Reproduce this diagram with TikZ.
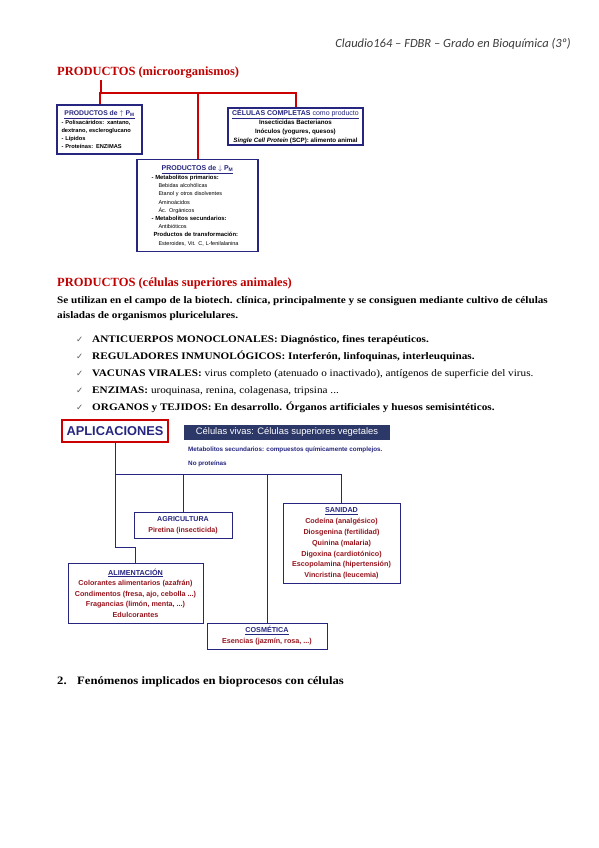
\documentclass[tikz,border=0pt]{standalone}
\usepackage{fontspec}
\setmainfont[FakeStretch=1.12]{Liberation Serif}
\setsansfont{Liberation Sans}
\newfontfamily\titlefont{Liberation Serif}
\newfontfamily\headfont{Carlito}
\newfontfamily\tickfont{DejaVu Sans}
\usetikzlibrary{calc}
\definecolor{TitleRed}{RGB}{192,0,0}
\definecolor{TreeRed}{RGB}{204,0,0}
\definecolor{BoxNavy}{RGB}{38,38,128}
\definecolor{BannerNavy}{RGB}{44,56,104}
\definecolor{ItemRed}{RGB}{150,22,30}
\definecolor{HeadGray}{RGB}{60,60,60}
\definecolor{TickGray}{RGB}{90,90,90}
\newcommand{\boxhead}[1]{\textcolor{BoxNavy}{\underline{#1}}}

\begin{document}
\begin{tikzpicture}[x=1pt, y=-1pt,
    sectitle/.style={anchor=base west, inner sep=0pt, text=TitleRed, font=\titlefont\bfseries\fontsize{12.5}{14}\selectfont},
    bodyline/.style={anchor=base west, inner sep=0pt, font=\bfseries\fontsize{10}{12}\selectfont},
    itemline/.style={anchor=base west, inner sep=0pt, font=\fontsize{10}{12}\selectfont},
    tick/.style={anchor=base west, inner sep=0pt, text=TickGray, font=\tickfont\fontsize{8.5}{10}\selectfont},
    topbox/.style={draw=BoxNavy, line width=1.2pt, fill=white, inner sep=0pt, font=\sffamily\bfseries\fontsize{5.7}{8}\selectfont},
    lowbox/.style={draw=BoxNavy, line width=1pt, fill=white, inner sep=0pt, align=center, text=ItemRed, font=\sffamily\bfseries\fontsize{7.1}{10.8}\selectfont},
    redline/.style={draw=TreeRed, line width=2pt},
    navyline/.style={draw=BoxNavy, line width=1pt}
]
    \useasboundingbox[fill=white] (0,0) rectangle (599,848);

    \node[anchor=base east, inner sep=0pt, text=HeadGray, font=\headfont\itshape\fontsize{12.5}{14}\selectfont] (header) at (571,48) {Claudio164 – FDBR – Grado en Bioquímica (3º)};

    % microorganismos
    \node[sectitle] (microtitle) at (57,76) {PRODUCTOS (microorganismos)};
    \node[topbox, minimum width=85pt, minimum height=49pt, text width=76pt, align=left] (pgrande) at (99.5,129.5) {\makebox[\linewidth]{\fontsize{6.8}{8}\selectfont\boxhead{PRODUCTOS de $\uparrow$ P\textsubscript{M}}}\\[1pt]
        - Polisacáridos: xantano,\\dextrano, escleroglucano\\- Lípidos\\- Proteínas: ENZIMAS};
    \node[topbox, minimum width=135pt, minimum height=37pt, align=center, font=\sffamily\bfseries\fontsize{6.2}{9}\selectfont] (celulas) at (295.5,126.5) {{\fontsize{7}{9}\selectfont\boxhead{CÉLULAS COMPLETAS \mdseries como producto}}\\[0.5pt]
        Insecticidas Bacterianos\\Inóculos (yogures, quesos)\\{\itshape Single Cell Protein} (SCP): alimento animal};
    \node[topbox, minimum width=121pt, minimum height=92pt, text width=92pt, align=left, font=\sffamily\fontsize{5.5}{8.2}\selectfont] (ppequeno) at (197.5,205.5) {\makebox[\linewidth]{\bfseries\fontsize{7}{8.2}\selectfont\boxhead{PRODUCTOS de $\downarrow$ P\textsubscript{M}}}\\[1pt]
        {\bfseries\fontsize{5.9}{8.2}\selectfont - Metabolitos primarios:}\\\hspace*{7pt}Bebidas alcohólicas\\\hspace*{7pt}Etanol y otros disolventes\\\hspace*{7pt}Aminoácidos\\\hspace*{7pt}Ác. Orgánicos\\
        {\bfseries\fontsize{5.9}{8.2}\selectfont - Metabolitos secundarios:}\\\hspace*{7pt}Antibióticos\\\hspace*{2pt}{\bfseries\fontsize{5.9}{8.2}\selectfont Productos de transformación:}\\\hspace*{7pt}Esteroides, Vit. C, L-fenilalanina};

    \coordinate (treetop) at (101,80);
    \coordinate (topbar) at (101,93);
    \draw[redline] (treetop) -- (topbar);
    \draw[redline] (pgrande.north) |- (topbar) -| (celulas.north);
    \draw[redline] (topbar -| ppequeno.north) -- (ppequeno.north);

    % celulas animales
    \node[sectitle] (animaltitle) at (57,286) {PRODUCTOS (células superiores animales)};
    \node[bodyline] (intro1) at (57,303.5) {Se utilizan en el campo de la biotech. clínica, principalmente y se consiguen mediante cultivo de células};
    \node[bodyline] (intro2) at (57,318.5) {aisladas de organismos pluricelulares.};
    \foreach \ty in {342,359,376,393,410}
        \node[tick] (tick\ty) at (76,\ty) {✓};
    \node[itemline] (item1) at (92,342) {\bfseries ANTICUERPOS MONOCLONALES: Diagnóstico, fines terapéuticos.};
    \node[itemline] (item2) at (92,359) {\bfseries REGULADORES INMUNOLÓGICOS: Interferón, linfoquinas, interleuquinas.};
    \node[itemline] (item3) at (92,376) {\textbf{VACUNAS VIRALES:} virus completo (atenuado o inactivado), antígenos de superficie del virus.};
    \node[itemline] (item4) at (92,393) {\textbf{ENZIMAS:} uroquinasa, renina, colagenasa, tripsina ...};
    \node[itemline] (item5) at (92,410) {\bfseries ORGANOS y TEJIDOS: En desarrollo. Órganos artificiales y huesos semisintéticos.};

    % aplicaciones vegetales
    \node[draw=TreeRed, line width=1.2pt, minimum width=106pt, minimum height=22pt, inner sep=0pt, text=BoxNavy, font=\sffamily\bfseries\fontsize{12.8}{14}\selectfont] (aplic) at (115,431) {APLICACIONES};
    \node[fill=BannerNavy, minimum width=206pt, minimum height=15pt, inner sep=0pt, text=white, font=\sffamily\fontsize{9.4}{11}\selectfont] (banner) at (287,432.5) {Células vivas: Células superiores vegetales};
    \node[anchor=base west, inner sep=0pt, text=BoxNavy, font=\sffamily\bfseries\fontsize{6.3}{7}\selectfont] (metab) at (188,451.5) {Metabolitos secundarios: compuestos químicamente complejos.};
    \node[anchor=base west, inner sep=0pt, text=BoxNavy, font=\sffamily\bfseries\fontsize{6.3}{7}\selectfont] (noprot) at (188,465.5) {No proteínas};

    \node[lowbox, minimum width=98pt, minimum height=26pt] (agri) at (183,525) {\textcolor{BoxNavy}{AGRICULTURA}\\Piretina (insecticida)};
    \node[lowbox, minimum width=117pt, minimum height=80pt, font=\sffamily\bfseries\fontsize{7.2}{10.8}\selectfont] (sanidad) at (341.5,543.5) {\boxhead{SANIDAD}\\Codeína (analgésico)\\Diosgenina (fertilidad)\\Quinina (malaria)\\Digoxina (cardiotónico)\\Escopolamina (hipertensión)\\Vincristina (leucemia)};
    \node[lowbox, minimum width=135pt, minimum height=60pt, font=\sffamily\bfseries\fontsize{7.2}{10.5}\selectfont] (alim) at (135.5,593) {\boxhead{ALIMENTACIÓN}\\Colorantes alimentarios (azafrán)\\Condimentos (fresa, ajo, cebolla ...)\\Fragancias (limón, menta, ...)\\Edulcorantes};
    \node[lowbox, minimum width=120pt, minimum height=26pt, font=\sffamily\bfseries\fontsize{7.2}{11}\selectfont] (cosm) at (267,636) {\boxhead{COSMÉTICA}\\Esencias (jazmín, rosa, ...)};

    \coordinate (lowbar) at (115,474);
    \coordinate (alimbend) at (115,547);
    \draw[navyline] (aplic.south) -- (alimbend) -| (alim.north);
    \draw[navyline] (lowbar) -| (sanidad.north);
    \draw[navyline] (lowbar -| agri.north) -- (agri.north);
    \draw[navyline] (lowbar -| cosm.north) -- (cosm.north);

    \node[bodyline, font=\bfseries\fontsize{11.3}{13}\selectfont] (secnum) at (57,684) {2.};
    \node[bodyline, font=\bfseries\fontsize{11.3}{13}\selectfont] (sectwo) at (77,684) {Fenómenos implicados en bioprocesos con células};
\end{tikzpicture}
\end{document}
